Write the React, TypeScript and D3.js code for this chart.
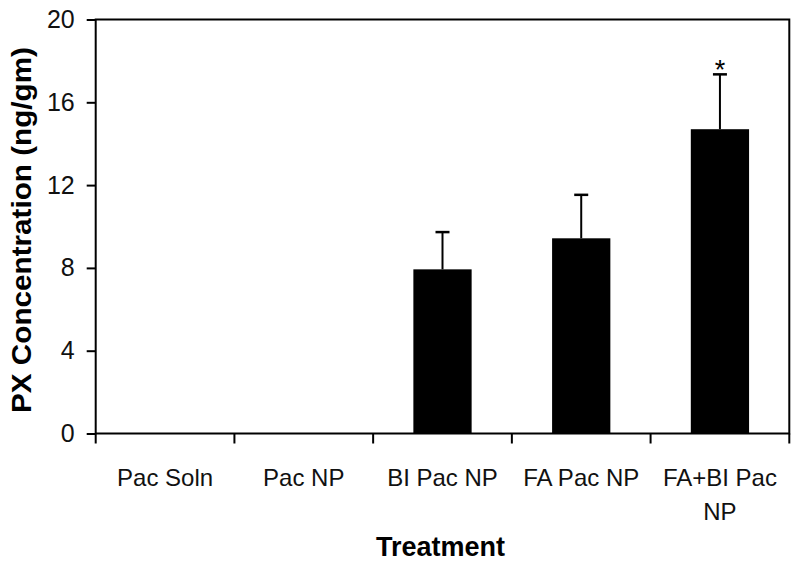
import React, { useEffect, useRef } from "react";
import * as d3 from "d3";

// data
const categories = ["Pac Soln", "Pac NP", "BI Pac NP", "FA Pac NP", "FA+BI Pac NP"];
const concentration = [0, 0, 7.93, 9.43, 14.7];
const errors = [0, 0, 1.8, 2.1, 2.65];
const significant = [false, false, false, false, true];
const yTicks = [0, 4, 8, 12, 16, 20];

const App: React.FC = () => {
  const svgRef = useRef<SVGSVGElement>(null);

  const drawChart = () => {
    const width = 800,
      height = 569;
    const margin = { top: 19.5, right: 10.7, bottom: 135.5, left: 95.7 };
    const innerW = width - margin.left - margin.right;
    const innerH = height - margin.top - margin.bottom;
    const font = "'Liberation Sans', Arial, sans-serif";

    const svg = d3.select(svgRef.current);
    svg.selectAll("*").remove();

    const g = svg
      .append("g")
      .attr("transform", `translate(${margin.left}, ${margin.top})`);

    const x = d3
      .scaleBand()
      .domain(categories)
      .range([0, innerW])
      .paddingInner(0.58)
      .paddingOuter(0.29);

    const y = d3.scaleLinear().domain([0, 20]).range([innerH, 0]);

    const rows = categories.map((c, i) => ({
      name: c,
      value: concentration[i],
      err: errors[i],
      star: significant[i],
    }));

    // bars
    g.selectAll("rect.bar")
      .data(rows.filter((d) => d.value > 0))
      .join("rect")
      .attr("class", "bar")
      .attr("x", (d) => x(d.name)!)
      .attr("width", x.bandwidth())
      .attr("y", (d) => y(d.value))
      .attr("height", (d) => innerH - y(d.value))
      .attr("fill", "#000");

    // error bars (upper only)
    const eb = g
      .selectAll("g.err")
      .data(rows.filter((d) => d.err > 0))
      .join("g")
      .attr("class", "err")
      .attr("transform", (d) => `translate(${x(d.name)! + x.bandwidth() / 2},0)`);
    eb.append("line")
      .attr("y1", (d) => y(d.value))
      .attr("y2", (d) => y(d.value + d.err))
      .attr("stroke", "#000")
      .attr("stroke-width", 2);
    eb.append("line")
      .attr("x1", -7)
      .attr("x2", 7)
      .attr("y1", (d) => y(d.value + d.err))
      .attr("y2", (d) => y(d.value + d.err))
      .attr("stroke", "#000")
      .attr("stroke-width", 2.5);
    eb.filter((d) => d.star)
      .append("text")
      .attr("y", (d) => y(d.value + d.err) + 5)
      .attr("text-anchor", "middle")
      .attr("font-size", 27)
      .attr("font-family", font)
      .text("*");

    // y axis
    const yAxis = g
      .append("g")
      .call(d3.axisLeft(y).tickValues(yTicks).tickSize(9).tickPadding(12).tickFormat(d3.format("d")));
    yAxis.select(".domain").remove();
    yAxis.selectAll("line").attr("stroke", "#000").attr("stroke-width", 2);
    yAxis
      .selectAll("text")
      .attr("font-size", 25)
      .attr("font-family", font)
      .attr("fill", "#111");

    // x ticks at band boundaries
    const step = x.step();
    g.selectAll("line.xtick")
      .data(d3.range(categories.length + 1))
      .join("line")
      .attr("class", "xtick")
      .attr("x1", (i) => i * step)
      .attr("x2", (i) => i * step)
      .attr("y1", innerH)
      .attr("y2", innerH + 10)
      .attr("stroke", "#000")
      .attr("stroke-width", 2);

    // frame
    g.append("rect")
      .attr("width", innerW)
      .attr("height", innerH)
      .attr("fill", "none")
      .attr("stroke", "#000")
      .attr("stroke-width", 2);

    // x labels, wrapped to the band step
    const labels = g
      .selectAll("text.xlab")
      .data(categories)
      .join("text")
      .attr("class", "xlab")
      .attr("x", (d) => x(d)! + x.bandwidth() / 2)
      .attr("y", innerH + 52.5)
      .attr("text-anchor", "middle")
      .attr("font-size", 24)
      .attr("font-family", font)
      .attr("fill", "#111");
    labels.each(function (d) {
      const text = d3.select(this);
      const words = d.split(" ");
      const cx = text.attr("x");
      let line: string[] = [];
      let tspan = text.append("tspan").attr("x", cx).attr("dy", 0);
      words.forEach((w) => {
        line.push(w);
        tspan.text(line.join(" "));
        if ((tspan.node() as SVGTSpanElement).getComputedTextLength() > step - 4 && line.length > 1) {
          line.pop();
          tspan.text(line.join(" "));
          line = [w];
          tspan = text.append("tspan").attr("x", cx).attr("dy", 34).text(w);
        }
      });
    });

    // axis titles
    svg
      .append("text")
      .attr("x", margin.left + innerW / 2 - 2)
      .attr("y", 556)
      .attr("text-anchor", "middle")
      .attr("font-size", 27)
      .attr("font-weight", "bold")
      .attr("font-family", font)
      .text("Treatment");

    svg
      .append("text")
      .attr("transform", `translate(31, 230) rotate(-90)`)
      .attr("text-anchor", "middle")
      .attr("font-size", 28)
      .attr("font-weight", "bold")
      .attr("font-family", font)
      .attr("textLength", 366)
      .attr("lengthAdjust", "spacingAndGlyphs")
      .text("PX Concentration (ng/gm)");
  };

  useEffect(drawChart, []);

  return (
    <svg
      ref={svgRef}
      width={800}
      height={569}
      style={{ position: "absolute", left: 0, top: 0, background: "#fff" }}
    />
  );
};

export default App;
